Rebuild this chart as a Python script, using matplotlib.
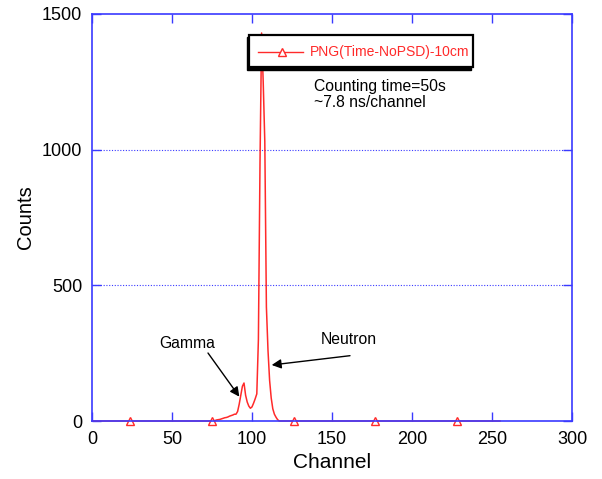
import numpy as np
import matplotlib
matplotlib.use("Agg")
import matplotlib.pyplot as plt
from matplotlib.patches import Rectangle
from matplotlib.lines import Line2D

plt.rcParams['font.family'] = ['Liberation Sans', 'DejaVu Sans']

# ---- data ----
n_channels = 256
peak_first_channel = 76
peak_counts = [0, 2, 4, 5, 6, 8, 10, 12, 13, 15, 18, 20, 22, 25, 25,
               35, 62, 95, 128, 140, 95, 70, 55, 47, 52, 66, 82, 100,
               300, 950, 1430, 1250, 1030, 420, 260, 150, 85, 45, 25, 14, 5, 0]
series_label = "PNG(Time-NoPSD)-10cm"
x_ticks = [0, 50, 100, 150, 200, 250, 300]
y_ticks = [0, 500, 1000, 1500]
note_lines = ["Counting time=50s", "~7.8 ns/channel"]

channels = np.arange(n_channels)
counts = np.zeros(n_channels)
counts[peak_first_channel:peak_first_channel + len(peak_counts)] = peak_counts

blue = '#3a3aff'
red = '#ff2a2a'

fig = plt.figure(figsize=(6.02, 4.79), dpi=100)
ax = fig.add_axes([92/602, 1 - 421/479, 480/602, 407/479])

ax.plot(channels, counts, color=red, lw=1.1, marker='^', markevery=(24, 51),
        ms=6, mfc='white', mec=red, mew=1.0, clip_on=False, zorder=2)

ax.set_xlim(0, 300)
ax.set_ylim(0, 1500)
ax.set_xticks(x_ticks)
ax.set_yticks(y_ticks)
for s in ax.spines.values():
    s.set_color(blue)
    s.set_linewidth(1.2)
ax.tick_params(direction='in', length=6.5, width=1.0, color=blue,
               top=True, right=True, labelsize=13, pad=7)
for y in [500, 1000]:
    ax.axhline(y, color=blue, lw=0.8, ls=(0, (1, 1.5)), zorder=1)

ax.set_xlabel("Channel", fontsize=15, labelpad=4)
ax.set_ylabel("Counts", fontsize=14.5, labelpad=5)

# legend box (manual, with shadow)
fig_tr = fig.transFigure
def px_rect(x0, y0, x1, y1):
    return x0/602, 1 - y1/479, (x1 - x0)/602, (y1 - y0)/479

sx, sy, sw, sh = px_rect(247, 37, 471, 70)
fig.patches.append(Rectangle((sx, sy), sw, sh, transform=fig_tr,
                             facecolor='black', edgecolor='black', zorder=5))
bx, by, bw, bh = px_rect(249, 35, 473, 67)
fig.patches.append(Rectangle((bx, by), bw, bh, transform=fig_tr,
                             facecolor='white', edgecolor='black', lw=1.6, zorder=6))
ly = 1 - 52/479
fig.lines.append(Line2D([258/602, 303/602], [ly, ly], transform=fig_tr,
                        color=red, lw=1.0, zorder=7))
fig.lines.append(Line2D([281.5/602], [ly], transform=fig_tr, color=red,
                        marker='^', ms=6, mfc='white', mec=red, mew=1.0, zorder=7))
fig.text(310/602, ly, series_label, color=red, fontsize=10, va='center',
         ha='left', zorder=8)

ax.text(138.5, 1262, note_lines[0] + "\n" + note_lines[1], fontsize=11.3,
        va='top', ha='left', linespacing=1.15)

ax.text(59.4, 283.8, "Gamma", fontsize=11.3, ha='center', va='center')
ax.annotate("", xy=(92.1, 89.6), xytext=(72.5, 250.6),
            arrowprops=dict(arrowstyle='-|>', color='black', lw=1.0,
                            mutation_scale=14, shrinkA=0, shrinkB=0))
ax.text(160.6, 302.2, "Neutron", fontsize=11.3, ha='center', va='center')
ax.annotate("", xy=(112.3, 206.4), xytext=(161.25, 240.7),
            arrowprops=dict(arrowstyle='-|>', color='black', lw=1.0,
                            mutation_scale=14, shrinkA=0, shrinkB=0))

fig.savefig("out.png", dpi=100)
